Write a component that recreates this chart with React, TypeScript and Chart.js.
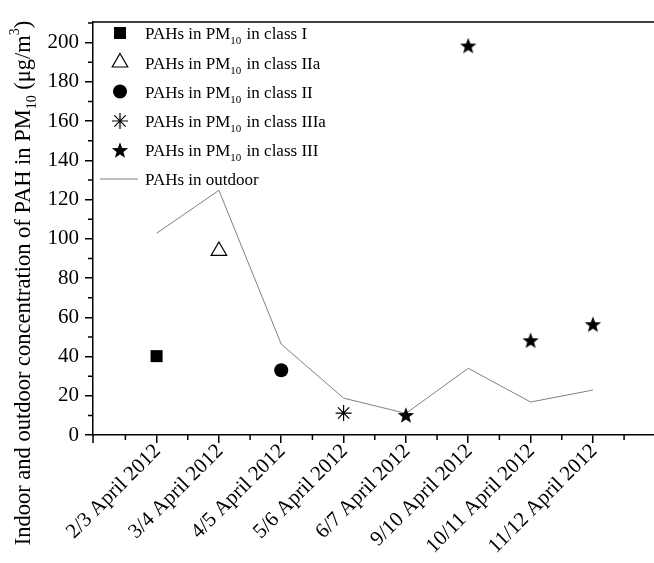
import React, { useEffect, useRef } from 'react';
import { Chart, registerables } from 'chart.js';

Chart.register(...registerables);

const categories = [
  '2/3 April 2012',
  '3/4 April 2012',
  '4/5 April 2012',
  '5/6 April 2012',
  '6/7 April 2012',
  '9/10 April 2012',
  '10/11 April 2012',
  '11/12 April 2012',
];
const outdoorValues = [102.8, 124.7, 46.3, 18.8, 11.0, 34.0, 16.8, 22.9];
const classIIndex = [0];
const classIValues = [40.2];
const classIIaIndex = [1];
const classIIaValues = [93.8];
const classIIIndex = [2];
const classIIValues = [33.0];
const classIIIaIndex = [3];
const classIIIaValues = [11.2];
const classIIIIndex = [4, 5, 6, 7];
const classIIIValues = [10.2, 198.5, 48.3, 56.5];
const yTickValues = [0, 20, 40, 60, 80, 100, 120, 140, 160, 180, 200];
const legendClasses = ['I', 'IIa', 'II', 'IIIa', 'III'];
const outdoorLabel = 'PAHs in outdoor';

const SERIF = '"Liberation Serif", "Times New Roman", serif';
const LINE_GRAY = '#808080';

function makeStar(): HTMLCanvasElement {
  const c = document.createElement('canvas');
  c.width = 18;
  c.height = 18;
  const g = c.getContext('2d')!;
  g.fillStyle = '#000';
  g.beginPath();
  const outer = 8.6;
  const inner = 3.6;
  for (let i = 0; i < 10; i++) {
    const r = i % 2 === 0 ? outer : inner;
    const a = -Math.PI / 2 + (i * Math.PI) / 5;
    const px = 9 + r * Math.cos(a);
    const py = 9.8 + r * Math.sin(a);
    if (i === 0) g.moveTo(px, py);
    else g.lineTo(px, py);
  }
  g.closePath();
  g.fill();
  return c;
}

function pts(idx: number[], vals: number[]) {
  return idx.map((x, i) => ({ x, y: vals[i] }));
}

export default function App() {
  const ref = useRef<HTMLCanvasElement | null>(null);

  useEffect(() => {
    if (!ref.current) return;
    const star = makeStar();

    const drawMarker = (ctx: CanvasRenderingContext2D, kind: number, x: number, y: number) => {
      ctx.save();
      ctx.fillStyle = '#000';
      ctx.strokeStyle = '#000';
      ctx.lineWidth = 1.2;
      if (kind === 0) {
        ctx.fillRect(x - 6, y - 6, 12, 12);
      } else if (kind === 1) {
        const r = 9;
        ctx.beginPath();
        ctx.moveTo(x, y - r);
        ctx.lineTo(x + r * Math.sin((2 * Math.PI) / 3), y - r * Math.cos((2 * Math.PI) / 3));
        ctx.lineTo(x + r * Math.sin((4 * Math.PI) / 3), y - r * Math.cos((4 * Math.PI) / 3));
        ctx.closePath();
        ctx.fillStyle = '#fff';
        ctx.fill();
        ctx.stroke();
      } else if (kind === 2) {
        ctx.beginPath();
        ctx.arc(x, y, 7, 0, Math.PI * 2);
        ctx.fill();
      } else if (kind === 3) {
        const r = 8;
        const d = r * Math.SQRT1_2;
        ctx.beginPath();
        ctx.moveTo(x, y - r);
        ctx.lineTo(x, y + r);
        ctx.moveTo(x - r, y);
        ctx.lineTo(x + r, y);
        ctx.moveTo(x - d, y - d);
        ctx.lineTo(x + d, y + d);
        ctx.moveTo(x - d, y + d);
        ctx.lineTo(x + d, y - d);
        ctx.stroke();
      } else if (kind === 4) {
        ctx.drawImage(star, x - 9, y - 9);
      }
      ctx.restore();
    };

    const decor = {
      id: 'decor',
      afterDraw(chart: any) {
        const ctx: CanvasRenderingContext2D = chart.ctx;
        const { left, top, right, bottom } = chart.chartArea;
        const xs = chart.scales.x;
        const ys = chart.scales.y;
        ctx.save();
        ctx.strokeStyle = '#000';
        ctx.lineWidth = 1.5;
        // top border
        ctx.beginPath();
        ctx.moveTo(left, top);
        ctx.lineTo(right + 2, top);
        ctx.stroke();
        // minor y ticks
        ctx.beginPath();
        for (let v = 10; v <= ys.max; v += 20) {
          const py = ys.getPixelForValue(v);
          ctx.moveTo(left - 5, py);
          ctx.lineTo(left, py);
        }
        // minor x ticks and origin/end major ticks
        for (let v = -0.5; v <= xs.max; v += 1) {
          const px = xs.getPixelForValue(v);
          ctx.moveTo(px, bottom);
          ctx.lineTo(px, bottom + 5);
        }
        ctx.moveTo(left, bottom);
        ctx.lineTo(left, bottom + 8);
        ctx.stroke();
        ctx.restore();

        // x category labels (rotated 45°)
        ctx.save();
        ctx.fillStyle = '#000';
        ctx.font = `21px ${SERIF}`;
        ctx.textAlign = 'right';
        ctx.textBaseline = 'middle';
        categories.forEach((lab, i) => {
          const px = xs.getPixelForValue(i);
          ctx.save();
          ctx.translate(px + 1, bottom + 13);
          ctx.rotate(-Math.PI / 4);
          ctx.fillText(lab, 0, 0);
          ctx.restore();
        });
        ctx.restore();

        // legend
        ctx.save();
        const rowY = [33, 62.5, 91.5, 121, 150, 179];
        const textX = 145;
        ctx.fillStyle = '#000';
        ctx.textBaseline = 'alphabetic';
        legendClasses.forEach((cls, i) => {
          const cy = rowY[i];
          drawMarker(ctx, i, 120, cy);
          let x = textX;
          const base = cy + 6;
          ctx.font = `17px ${SERIF}`;
          const a = 'PAHs in PM';
          ctx.fillText(a, x, base);
          x += ctx.measureText(a).width;
          ctx.font = `11px ${SERIF}`;
          ctx.fillText('10', x, base + 5);
          x += ctx.measureText('10').width + 1;
          ctx.font = `17px ${SERIF}`;
          ctx.fillText(' in class ' + cls, x, base);
        });
        const ly = rowY[5];
        ctx.strokeStyle = LINE_GRAY;
        ctx.lineWidth = 1;
        ctx.beginPath();
        ctx.moveTo(100, ly);
        ctx.lineTo(138, ly);
        ctx.stroke();
        ctx.font = `17px ${SERIF}`;
        ctx.fillText(outdoorLabel, textX, ly + 6);
        ctx.restore();

        // y title
        ctx.save();
        const big = `22.5px ${SERIF}`;
        const small = `14px ${SERIF}`;
        const parts: [string, string, number][] = [
          ['Indoor and outdoor concentration of PAH in PM', big, 0],
          ['10', small, 6],
          [' (\u03bcg/m', big, 0],
          ['3', small, -11],
          [')', big, 0],
        ];
        let total = 0;
        parts.forEach(([t, f]) => {
          ctx.font = f;
          total += ctx.measureText(t).width;
        });
        ctx.translate(30, 283);
        ctx.rotate(-Math.PI / 2);
        ctx.fillStyle = '#000';
        ctx.textBaseline = 'alphabetic';
        let x = -total / 2;
        parts.forEach(([t, f, dy]) => {
          ctx.font = f;
          ctx.fillText(t, x, dy);
          x += ctx.measureText(t).width;
        });
        ctx.restore();
      },
    };

    const chart = new Chart(ref.current, {
      type: 'scatter',
      data: {
        datasets: [
          {
            label: 'PAHs in outdoor',
            data: pts(categories.map((_, i) => i), outdoorValues),
            showLine: true,
            borderColor: LINE_GRAY,
            borderWidth: 1,
            pointRadius: 0,
            fill: false,
            tension: 0,
            order: 10,
          },
          {
            label: 'class I',
            data: pts(classIIndex, classIValues),
            pointStyle: 'rect',
            pointRadius: 8.5,
            backgroundColor: '#000',
            borderColor: '#000',
            borderWidth: 0,
            order: 1,
          },
          {
            label: 'class IIa',
            data: pts(classIIaIndex, classIIaValues),
            pointStyle: 'triangle',
            pointRadius: 9,
            backgroundColor: '#fff',
            borderColor: '#000',
            borderWidth: 1.2,
            order: 1,
          },
          {
            label: 'class II',
            data: pts(classIIIndex, classIIValues),
            pointStyle: 'circle',
            pointRadius: 7,
            backgroundColor: '#000',
            borderColor: '#000',
            borderWidth: 0,
            order: 1,
          },
          {
            label: 'class IIIa',
            data: pts(classIIIaIndex, classIIIaValues),
            pointStyle: 'star',
            pointRadius: 8,
            backgroundColor: '#000',
            borderColor: '#000',
            borderWidth: 1.2,
            order: 1,
          },
          {
            label: 'class III',
            data: pts(classIIIIndex, classIIIValues),
            pointStyle: star as any,
            pointRadius: 9,
            backgroundColor: '#000',
            borderColor: '#000',
            order: 1,
          },
        ] as any,
      },
      options: {
        animation: false,
        responsive: false,
        maintainAspectRatio: false,
        layout: { autoPadding: false, padding: { top: 22, right: 0, left: 0, bottom: 0 } },
        plugins: {
          legend: { display: false },
          tooltip: { enabled: false },
          title: { display: false },
        },
        scales: {
          x: {
            type: 'linear',
            min: -1.02,
            max: 7.98,
            afterBuildTicks: (scale: any) => {
              scale.ticks = categories.map((_, i) => ({ value: i }));
            },
            afterFit: (scale: any) => {
              scale.height = 128;
              scale.paddingLeft = 0;
              scale.paddingRight = 0;
            },
            grid: {
              display: true,
              drawOnChartArea: false,
              drawTicks: true,
              tickLength: 8,
              color: '#000',
              lineWidth: 1.5,
            },
            border: { display: true, color: '#000', width: 1.5 },
            ticks: {
              display: false,
            },
          },
          y: {
            type: 'linear',
            min: 0,
            max: 210.5,
            afterBuildTicks: (scale: any) => {
              scale.ticks = yTickValues.map((v) => ({ value: v }));
            },
            afterFit: (scale: any) => {
              scale.width = 93;
            },
            grid: {
              display: true,
              drawOnChartArea: false,
              drawTicks: true,
              tickLength: 8,
              color: '#000',
              lineWidth: 1.5,
            },
            border: { display: true, color: '#000', width: 1.5 },
            ticks: {
              padding: 6,
              color: '#000',
              font: { family: SERIF, size: 21 },
            },
          },
        },
      },
      plugins: [decor],
    } as any);

    return () => chart.destroy();
  }, []);

  return (
    <div style={{ position: 'absolute', left: 0, top: 0, width: 654, height: 563, background: '#fff' }}>
      <canvas ref={ref} width={654} height={563} style={{ display: 'block', width: 654, height: 563 }} />
    </div>
  );
}
